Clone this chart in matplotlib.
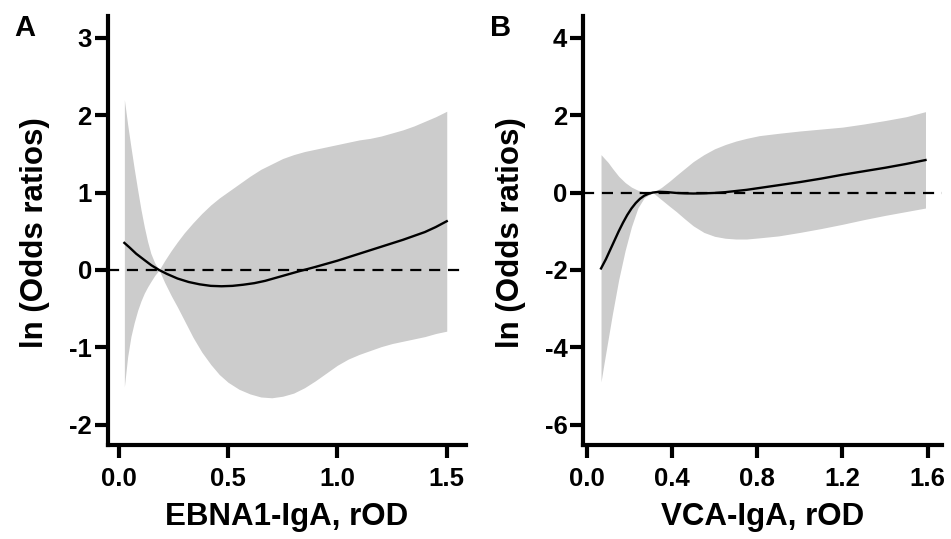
import matplotlib
matplotlib.use("Agg")
import matplotlib.pyplot as plt

plt.rcParams['font.family'] = ['Liberation Sans', 'DejaVu Sans']
plt.rcParams['font.weight'] = 'bold'

# Panel A: EBNA1-IgA (ln odds ratio spline and 95% CI)
a_x = [0.026, 0.05, 0.08, 0.117, 0.15, 0.185, 0.22, 0.269, 0.32, 0.37, 0.421, 0.47, 0.52, 0.57,
       0.62, 0.67, 0.72, 0.77, 0.82, 0.86, 0.90, 0.95, 1.00, 1.05, 1.10, 1.15, 1.20, 1.25, 1.30,
       1.35, 1.40, 1.45, 1.50]
a_y = [0.35, 0.29, 0.21, 0.13, 0.06, 0.0, -0.05, -0.11, -0.155, -0.185, -0.205, -0.21, -0.205, -0.19,
       -0.17, -0.14, -0.10, -0.06, -0.02, 0.01, 0.04, 0.08, 0.12, 0.165, 0.21, 0.255, 0.30, 0.345, 0.39,
       0.44, 0.49, 0.555, 0.63]

a_band_x = [0.026, 0.041, 0.056, 0.071, 0.087, 0.102, 0.117, 0.132, 0.147, 0.165, 0.185, 0.21, 0.24,
            0.269, 0.30, 0.34, 0.38, 0.421, 0.46, 0.50, 0.55, 0.60, 0.65, 0.70, 0.75, 0.80, 0.85,
            0.90, 0.95, 1.00, 1.05, 1.10, 1.15, 1.20, 1.25, 1.30, 1.35, 1.40, 1.45, 1.50]
a_upper = [2.20, 1.88, 1.59, 1.31, 1.03, 0.78, 0.56, 0.37, 0.215, 0.09, 0.0, 0.12, 0.25,
           0.365, 0.48, 0.61, 0.73, 0.84, 0.93, 1.01, 1.11, 1.21, 1.30, 1.37, 1.44, 1.49, 1.53,
           1.56, 1.59, 1.62, 1.65, 1.68, 1.70, 1.73, 1.77, 1.81, 1.86, 1.92, 1.98, 2.05]
a_lower = [-1.51, -1.12, -0.86, -0.68, -0.52, -0.40, -0.30, -0.22, -0.15, -0.07, 0.0, -0.16, -0.33,
           -0.48, -0.65, -0.87, -1.06, -1.22, -1.35, -1.45, -1.54, -1.60, -1.64, -1.65, -1.63, -1.59, -1.52,
           -1.43, -1.33, -1.23, -1.15, -1.09, -1.04, -0.99, -0.95, -0.92, -0.89, -0.86, -0.82, -0.79]

# Panel B: VCA-IgA
b_x = [0.067, 0.09, 0.11, 0.13, 0.15, 0.17, 0.19, 0.21, 0.23, 0.25, 0.27, 0.29, 0.31, 0.34, 0.38,
       0.42, 0.46, 0.50, 0.55, 0.60, 0.65, 0.70, 0.75, 0.80, 0.85, 0.90, 1.00, 1.10, 1.20, 1.30,
       1.40, 1.50, 1.59]
b_y = [-1.96, -1.72, -1.48, -1.24, -1.00, -0.78, -0.58, -0.41, -0.27, -0.16, -0.08, -0.03, 0.0, 0.02, 0.01,
       -0.01, -0.02, -0.025, -0.02, -0.01, 0.01, 0.04, 0.07, 0.11, 0.15, 0.19, 0.27, 0.36, 0.46, 0.55,
       0.64, 0.74, 0.84]

b_band_x = [0.067, 0.08, 0.10, 0.12, 0.15, 0.18, 0.21, 0.24, 0.27, 0.31, 0.35, 0.39, 0.42, 0.46,
            0.50, 0.55, 0.60, 0.65, 0.70, 0.75, 0.81, 0.90, 1.00, 1.10, 1.20, 1.30, 1.40, 1.50, 1.59]
b_upper = [0.98, 0.90, 0.78, 0.63, 0.42, 0.26, 0.14, 0.06, 0.02, 0.0, 0.13, 0.30, 0.44, 0.62,
           0.80, 0.98, 1.13, 1.24, 1.33, 1.40, 1.47, 1.53, 1.59, 1.64, 1.69, 1.77, 1.86, 1.96, 2.09]
b_lower = [-4.89, -4.45, -3.80, -3.15, -2.25, -1.50, -0.88, -0.40, -0.13, 0.0, -0.18, -0.36, -0.49, -0.68,
           -0.86, -1.03, -1.13, -1.18, -1.20, -1.20, -1.17, -1.12, -1.03, -0.93, -0.82, -0.70, -0.59, -0.49, -0.40]

fig = plt.figure(figsize=(9.51, 5.39), dpi=100)
axA = fig.add_axes([0.1133, 0.1744, 0.490 - 0.1133, 0.9703 - 0.1744])
axB = fig.add_axes([0.6134, 0.1744, 0.9902 - 0.6134, 0.9703 - 0.1744])

band_color = '#cccccc'


def style(ax, xlim, ylim, xticks, xlabels, yticks, ylabels, xlabel):
    ax.set_xlim(*xlim)
    ax.set_ylim(*ylim)
    for s in ['top', 'right']:
        ax.spines[s].set_visible(False)
    for s in ['left', 'bottom']:
        ax.spines[s].set_linewidth(3.0)
        ax.spines[s].set_capstyle('projecting')
    ax.set_xticks(xticks)
    ax.set_xticklabels(xlabels)
    ax.set_yticks(yticks)
    ax.set_yticklabels(ylabels)
    ax.tick_params(width=3.0, length=9.5, labelsize=18.5)
    ax.tick_params(axis='y', pad=2)
    ax.tick_params(axis='x', pad=6)
    ax.set_xlabel(xlabel, fontsize=22.5, fontweight='bold')
    ax.set_ylabel('ln (Odds ratios)', fontsize=22.5, fontweight='bold')
    ax.yaxis.set_label_coords(-0.16, 0.495)
    ax.xaxis.set_label_coords(0.5, -0.132)
    ax.xaxis.label.set_va('top')
    for lab in ax.get_xticklabels() + ax.get_yticklabels():
        lab.set_fontweight('bold')


axA.fill_between(a_band_x, a_lower, a_upper, color=band_color, linewidth=0, zorder=1)
axA.plot(a_x, a_y, color='black', linewidth=1.7, zorder=3)
axA.axhline(0, color='black', linewidth=1.6, linestyle=(0, (5, 3.5)), zorder=2)
style(axA, (-0.05, 1.588), (-2.26, 3.28), [0.0, 0.5, 1.0, 1.5], ['0.0', '0.5', '1.0', '1.5'],
      [-2, -1, 0, 1, 2, 3], ['-2', '-1', '0', '1', '2', '3'], 'EBNA1-IgA, rOD')

axB.fill_between(b_band_x, b_lower, b_upper, color=band_color, linewidth=0, zorder=1)
axB.plot(b_x, b_y, color='black', linewidth=1.7, zorder=3)
axB.axhline(0, color='black', linewidth=1.6, linestyle=(0, (5, 3.5)), zorder=2)
style(axB, (-0.016, 1.666), (-6.52, 4.56), [0.0, 0.4, 0.8, 1.2, 1.6], ['0.0', '0.4', '0.8', '1.2', '1.6'],
      [-6, -4, -2, 0, 2, 4], ['-6', '-4', '-2', '0', '2', '4'], 'VCA-IgA, rOD')

fig.text(14 / 951, 1 - 36 / 539, 'A', fontsize=21, fontweight='bold', va='baseline', ha='left')
fig.text(490 / 951, 1 - 36 / 539, 'B', fontsize=21, fontweight='bold', va='baseline', ha='left')

fig.savefig('out.png', dpi=100)
